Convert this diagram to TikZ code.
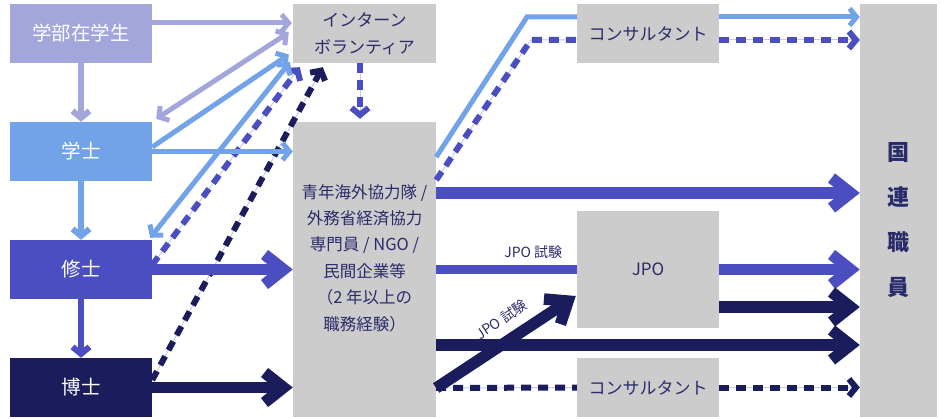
\documentclass[tikz,border=0pt]{standalone}
\usepackage{fontspec}
\newfontfamily\jp{Noto Sans CJK JP}
\usetikzlibrary{arrows.meta}
\definecolor{lav}{HTML}{A3A6DB}
\definecolor{lblue}{HTML}{72A2E8}
\definecolor{mblue}{HTML}{4A4EC0}
\definecolor{navy}{HTML}{1B1C5C}
\definecolor{gbox}{HTML}{CBCCCB}
\definecolor{gtxt}{HTML}{2A2B6B}
\tikzset{
  tipS/.tip={Straight Barb[length=7pt,width=17pt]},
  tipL/.tip={Straight Barb[length=19pt,width=30pt]},
}
\begin{document}
\begin{tikzpicture}[x=1pt,y=-1pt,
  lbox/.style={rectangle, minimum width=142pt, minimum height=59pt, inner sep=0pt, text=white, font=\jp\fontsize{19.5}{22}\selectfont},
  gb/.style={rectangle, fill=gbox, inner sep=0pt, text=gtxt, font=\jp\fontsize{17}{27}\selectfont, align=center},
  a1/.style={line width=5pt, -tipS},
  av/.style={line width=6pt, -tipS},
  a2/.style={line width=11.5pt, -tipL},
  dsh/.style={line width=6pt, dash pattern=on 10pt off 7pt, preaction={draw=lav!60, line width=1pt, solid, arrows=-}},
  lbl/.style={text=gtxt, font=\jp\fontsize{14}{16}\selectfont, inner sep=1pt},
]
\useasboundingbox (0,0) rectangle (941,419);

% left boxes
\node[lbox, fill=lav]   (ug) at (81,33.5)  {学部在学生};
\node[lbox, fill=lblue] (ba) at (81,151.5) {学士};
\node[lbox, fill=mblue] (ma) at (81,269.5) {修士};
\node[lbox, fill=navy]  (dr) at (81,387.5) {博士};

% grey boxes
\node[gb, minimum width=143pt, minimum height=59pt] (intern) at (364.5,33.5) {インターン\\ボランティア};
\node[gb, minimum width=143pt, minimum height=295pt,
  label={[text=gtxt, font=\jp\fontsize{16.5}{26.4}\selectfont, align=center, yshift=11.5pt]center:{青年海外協力隊 /\\外務省経済協力\\専門員 / NGO /\\民間企業等\\（2 年以上の\\職務経験）}}] (mid) at (364.5,269.5) {};
\node[gb, minimum width=142pt, minimum height=59pt]  (c1)  at (648,33.5)  {コンサルタント};
\node[gb, minimum width=142pt, minimum height=117pt] (jpo) at (648,269.5) {JPO};
\node[gb, minimum width=142pt, minimum height=59pt]  (c2)  at (648,387.5) {コンサルタント};
\node[gb, minimum width=77pt, minimum height=413pt,
  label={[text=gtxt, font=\jp\bfseries\fontsize{22}{45}\selectfont, align=center, yshift=-10pt]center:{国\\連\\職\\員}}] (un) at (898.5,210.5) {};

\coordinate (b1) at (527,17);
\coordinate (b2) at (531,40);

% vertical arrows
\draw[av, lav]   (ug.south) -- (ba.north);
\draw[av, lblue] (ba.south) -- (ma.north);
\draw[av, mblue] (ma.south) -- (dr.north);

% left to intern / mid
\draw[a1, lav] ([shift={(0,-10.5)}]ug.east) -- ([shift={(-1,-10.5)}]intern.west);
\draw[dsh, navy, -tipS] ([shift={(0,-7.5)}]dr.east) -- ([shift={(30,4)}]intern.south west);
\draw[dsh, mblue, -tipS] ([shift={(0,-4.5)}]ma.east) -- ([shift={(7,4)}]intern.south west);
\draw[lav, line width=5pt, tipS-tipS] ([shift={(4,-3)}]ba.north east) -- ([shift={(-4,-1)}]intern.west);
\draw[lblue, line width=5pt, tipS-tipS] ([shift={(-2,-2)}]ma.north east) -- ([shift={(-3,-1)}]intern.south west);
\draw[a1, lblue] ([shift={(0,-4.5)}]ba.east) -- ([shift={(-4,21)}]intern.west);
\draw[a1, lblue] (ba.east) -- (ba.east -| mid.west);
\draw[dsh, mblue, -tipS] ([shift={(-4.5,0)}]intern.south) -- ([shift={(-4.5,-3)}]mid.north);
\draw[a2, mblue] (ma.east) -- (ma.east -| mid.west);
\draw[a2, navy]  (dr.east) -- (dr.east -| mid.west);

% right side
\draw[lblue, line width=5pt] ([shift={(0,-112.5)}]mid.east) -- (b1) -- ([shift={(0,-16.5)}]c1.west);
\draw[a1, lblue] ([shift={(0,-16.5)}]c1.east) -- ([shift={(0,-193.5)}]un.west);
\draw[dsh, mblue] ([shift={(0,-89.5)}]mid.east) -- (b2) -- ([shift={(0,6.5)}]c1.west);
\draw[dsh, mblue, -tipS] ([shift={(0,6.5)}]c1.east) -- ([shift={(0,-170.5)}]un.west);
\draw[a2, mblue] ([shift={(0,-76.5)}]mid.east) -- ([shift={(0,-17.5)}]un.west);
\draw[mblue, line width=9pt] (mid.east) -- node[lbl, pos=0.69, above=5pt] {JPO 試験} (jpo.west);
\draw[a2, mblue] (jpo.east) -- (jpo.east -| un.west);
\draw[a2, navy] ([shift={(0,37.5)}]jpo.east) -- ([shift={(0,96.5)}]un.west);
\draw[a2, navy] ([shift={(0,75.5)}]mid.east) -- ([shift={(0,134.5)}]un.west);
\draw[dsh, navy] ([shift={(0,118.5)}]mid.east) -- (c2.west);
\draw[dsh, navy, -tipS] (c2.east) -- (c2.east -| un.west);
\draw[a2, navy] ([shift={(0,118.5)}]mid.east) -- node[lbl, sloped, pos=0.55, above=8pt] {JPO 試験} ([shift={(-1,26.5)}]jpo.west);
\end{tikzpicture}
\end{document}
